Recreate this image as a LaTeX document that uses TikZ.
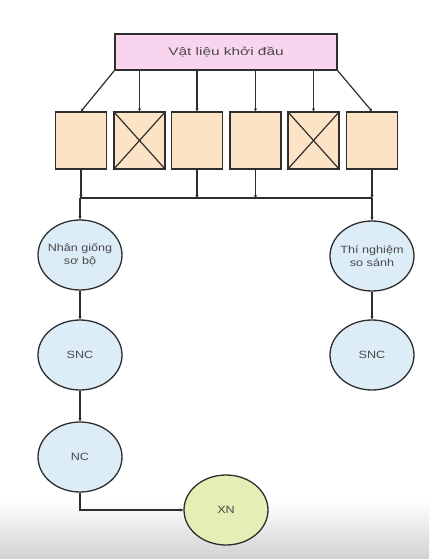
\documentclass[tikz,border=0pt]{standalone}
\usepackage{fontspec}
\setmainfont[FakeStretch=1.4]{Liberation Sans}
\newfontfamily\ellfont[FakeStretch=1.2]{Liberation Sans}
\usetikzlibrary{arrows.meta,shapes.geometric}
\definecolor{pinkbox}{HTML}{F9D4EF}
\definecolor{peach}{HTML}{FCE3C6}
\definecolor{lblue}{HTML}{DDEDF7}
\definecolor{lgreen}{HTML}{E6EEB6}
\definecolor{txt}{HTML}{4A4A4A}
\definecolor{edge}{HTML}{2E2E2E}
\begin{document}
\begin{tikzpicture}[x=1pt,y=-1pt,
  lbl/.style={font=\fontsize{11}{12}\selectfont, text=txt, align=center},
  topbox/.style={draw=edge, line width=1.3pt, fill=pinkbox, minimum width=222pt, minimum height=36pt, inner sep=0pt, lbl},
  sq/.style={draw=edge, line width=1.3pt, fill=peach, minimum width=51pt, minimum height=57pt, inner sep=0pt},
  ell/.style={draw=edge, line width=1.3pt, ellipse, fill=lblue, minimum width=84pt, minimum height=70pt, inner sep=-14pt, text=txt, align=center, font=\ellfont\fontsize{10.5}{12.5}\selectfont},
  conn/.style={draw=edge, line width=1.2pt},
  arr/.style={conn, -{Stealth[length=3pt,width=3pt]}}
]
\useasboundingbox (0,0) rectangle (429,559);
\fill[white] (0,0) rectangle (429,559);
\shade[top color=white, bottom color=black!18] (0,500) rectangle (429,559);

\node[topbox] (top) at (226,52) {Vật liệu khởi đầu};

\node[sq] (s1) at (81,140.5) {};
\node[sq] (s2) at (139.5,140.5) {};
\node[sq] (s3) at (197,140.5) {};
\node[sq] (s4) at (255.5,140.5) {};
\node[sq] (s5) at (313.5,140.5) {};
\node[sq] (s6) at (372,140.5) {};
\draw[conn] (s2.north west) -- (s2.south east) (s2.north east) -- (s2.south west);
\draw[conn] (s5.north west) -- (s5.south east) (s5.north east) -- (s5.south west);

\node[ell] (nhan) at (80,255) {Nhân giống\\sơ bộ};
\node[ell] (thi) at (372,256) {Thí nghiệm\\so sánh};
\node[ell] (snc1) at (80,355) {SNC};
\node[ell] (snc2) at (372,355) {SNC};
\node[ell] (nc) at (80,457) {NC};
\node[ell, fill=lgreen] (xn) at (226,510) {XN};

% top box to squares
\draw[arr] (top.south west) -- (s1.north);
\draw[arr] (top.south -| s2) -- (s2.north);
\draw[arr] (top.south -| s3) -- (s3.north);
\draw[arr] (top.south -| s4) -- (s4.north);
\draw[arr] (top.south -| s5) -- (s5.north);
\draw[arr] (top.south east) -- (s6.north);

% squares to bus
\coordinate (bl) at (80,198);
\coordinate (br) at (372,198);
\draw[arr] (s1.south) -- (s1.south |- bl);
\draw[arr] (s3.south) -- (s3.south |- bl);
\draw[arr] (s4.south) -- (s4.south |- bl);
\draw[arr] (s6.south) -- (s6.south |- br);
\draw[conn] (bl) -- (br);
\draw[arr] (bl) -- (nhan.north);
\draw[arr] (br) -- (thi.north);

\draw[arr] (nhan.south) -- (snc1.north);
\draw[arr] (snc1.south) -- (nc.north);
\draw[arr] (thi.south) -- (snc2.north);
\draw[arr] (nc.south) |- (xn.west);
\end{tikzpicture}
\end{document}
